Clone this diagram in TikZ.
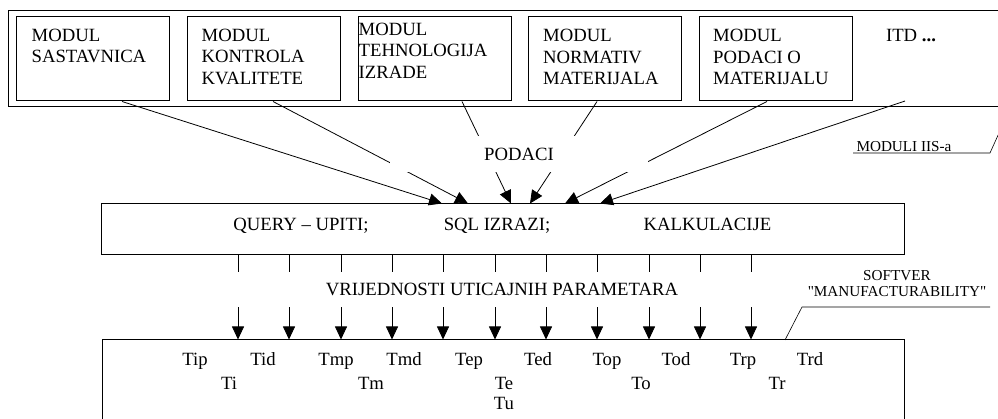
\documentclass[tikz,border=0pt]{standalone}
\usepackage{fontspec}
\setmainfont{Liberation Serif}
\newfontfamily\plainserif[Ligatures=TeXOff]{Liberation Serif}
\usetikzlibrary{arrows.meta}

\begin{document}
\begin{tikzpicture} [
    x=1pt, y=-1pt,
    every node/.style = { font=\fontsize{18.7}{21.5}\selectfont },
    outer/.style   = { rectangle, draw, line width=1pt,
                       minimum width=1002pt, minimum height=96pt },
    modul/.style   = { rectangle, draw, line width=1pt,
                       minimum width=153pt, minimum height=84pt },
    modtext/.style = { anchor=north west, align=left, inner sep=0pt },
    block/.style   = { rectangle, draw, line width=1pt,
                       minimum width=803pt, minimum height=51pt },
    cover/.style   = { rectangle, fill=white, inner sep=0pt,
                       text height=12.4pt, text depth=0pt },
    small/.style   = { font=\plainserif\fontsize{15.2}{16}\selectfont, inner sep=0pt },
    line/.style    = { draw, line width=0.8pt,
                       -{Triangle[length=13pt,width=12pt]} },
    callout/.style = { draw, line width=0.6pt },
  ]
  \useasboundingbox (0,0) rectangle (998,419);
  % moduli
  \node [outer] (iis) at (509,59) {};
  \node [modul] (m1) at (92.5,59)  {};
  \node [modul] (m2) at (263.5,59) {};
  \node [modul] (m3) at (434.5,59) {};
  \node [modul] (m4) at (605,59)   {};
  \node [modul] (m5) at (776,59)   {};
  \node [modtext] (t1) at ([xshift=16pt,yshift=-12pt]m1.north west)
        {MODUL\\SASTAVNICA};
  \node [modtext] (t2) at ([xshift=15pt,yshift=-12pt]m2.north west)
        {MODUL\\KONTROLA\\KVALITETE};
  \node [modtext] (t3) at ([xshift=1pt,yshift=-6pt]m3.north west)
        {MODUL\\TEHNOLOGIJA\\IZRADE};
  \node [modtext] (t4) at ([xshift=15pt,yshift=-12.5pt]m4.north west)
        {MODUL\\NORMATIV\\MATERIJALA};
  \node [modtext] (t5) at ([xshift=14pt,yshift=-12.5pt]m5.north west)
        {MODUL\\PODACI O\\MATERIJALU};
  \node [inner sep=0pt] (itd) at (911,36) {ITD \textbf{...}};
  \coordinate (itd-end) at (905,101);

  % obrada
  \node [block] (calc) at (502.5,229.5) {};
  \node [anchor=base] (query) at (301,231)   {QUERY -- UPITI;};
  \node [anchor=base] (sql)   at (497,231)   {SQL IZRAZI;};
  \node [anchor=base] (kalk)  at (707.5,231) {KALKULACIJE};

  \node [block, minimum width=802pt, minimum height=120pt] (soft) at (503,400) {};

  % connect all nodes defined above
  \begin{scope} [every path/.style=line]
    \path ([xshift=29.5pt]m1.south) -- ([xshift=-60.5pt]calc.north);
    \path ([xshift=9.5pt]m2.south)  -- ([xshift=-34.5pt]calc.north);
    \path ([xshift=27.5pt]m3.south) -- ([xshift=8.5pt]calc.north);
    \path ([xshift=-8pt]m4.south)   -- ([xshift=27.5pt]calc.north);
    \path ([xshift=-9pt]m5.south)   -- ([xshift=62.5pt]calc.north);
    \path (itd-end)                 -- ([xshift=97.5pt]calc.north);
    \foreach \x in {238,289,341,392,443,495,546,597,649,700,751} {
      \coordinate (p) at (\x,0);
      \path (calc.south -| p) -- (soft.north -| p);
    }
  \end{scope}
  \node [cover, minimum width=258pt, minimum height=36pt] (podaci)
        at (519,154) {PODACI};
  \node [cover, minimum width=530pt, minimum height=35pt] (vrij)
        at (502,289.5) {VRIJEDNOSTI UTICAJNIH PARAMETARA};

  % parametri
  \foreach \t/\x in {Tip/195, Tid/263, Tmp/336, Tmd/404, Tep/469,
                     Ted/538, Top/607, Tod/676, Trp/743, Trd/810}
    \node [anchor=base] (\t) at (\x,366) {\t};
  \foreach \t/\x in {Ti/229, Tm/371, Te/504, To/641, Tr/777}
    \node [anchor=base] (\t) at (\x,389) {\t};
  \node [anchor=base] (Tu) at (504,409) {Tu};

  % oznake
  \node [small] (iistag) at (904,147) {MODULI IIS-a};
  \path [callout] (853,153) -- (990,153) -- (iis.south east);
  \node [small, align=center] (swtag) at (897,284)
        {SOFTVER\\"MANUFACTURABILITY"};
  \coordinate (sw-end) at (785,340);
  \path [callout] (990,307) -- (802,307) -- (sw-end);
\end{tikzpicture}
\end{document}
